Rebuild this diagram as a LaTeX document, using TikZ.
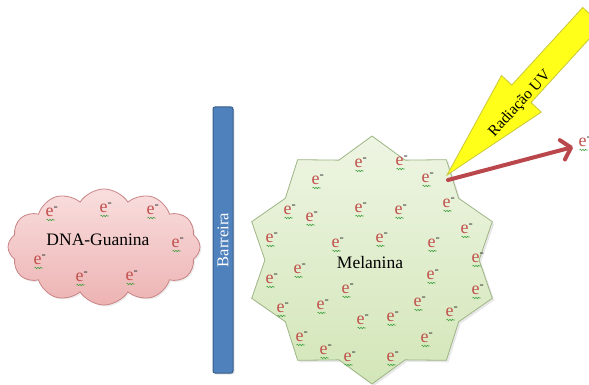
\documentclass[tikz,border=0pt]{standalone}
\usepackage{fontspec}
\setmainfont{Liberation Serif}
\usetikzlibrary{shapes.symbols,decorations.pathmorphing,shadows,arrows.meta}
\definecolor{elred}{HTML}{C0504D}
\definecolor{squiggreen}{HTML}{3FA040}
\definecolor{barfill}{HTML}{4F81BD}
\definecolor{barline}{HTML}{385D8A}
\definecolor{startop}{HTML}{EEF5E3}
\definecolor{starbot}{HTML}{D3E6B8}
\definecolor{starline}{HTML}{9DB585}
\definecolor{cloudtop}{HTML}{F9DEDE}
\definecolor{cloudbot}{HTML}{EDB3B3}
\definecolor{cloudline}{HTML}{C98585}
\definecolor{uvfill}{HTML}{FFFF1A}
\definecolor{uvline}{HTML}{C9C83A}
\definecolor{arrowred}{HTML}{B9474B}
\begin{document}
\begin{tikzpicture}[x=1pt,y=-1pt,
  elec/.style={inner sep=0pt, text=elred, font=\fontsize{18}{20}\selectfont},
  squig/.style={draw=squiggreen, line width=0.6pt, decorate,
    decoration={snake, amplitude=0.7pt, segment length=2.6pt}},
  lbl/.style={inner sep=0pt, font=\fontsize{17.5}{20}\selectfont},
  redarrow/.style={draw=arrowred, line width=4pt, line cap=round,
    -{Straight Barb[length=9pt,width=20pt,round]}},
]
\useasboundingbox (0,0) rectangle (589,385);

% cloud DNA-Guanina
\node[cloud, cloud puffs=12, cloud puff arc=115, aspect=1.7,
  minimum width=192pt, minimum height=116pt, inner sep=0pt,
  draw=cloudline, line width=0.8pt, top color=cloudtop, bottom color=cloudbot,
  drop shadow={opacity=0.15, shadow xshift=1.5pt, shadow yshift=-1.5pt}]
  (cloud) at (104,247) {};
\node[lbl] (dna) at (98,240) {DNA-Guanina};

% barrier
\node[draw=barline, fill=barfill, line width=1pt, rounded corners=2pt,
  minimum width=20pt, minimum height=266pt, inner sep=0pt,
  drop shadow={opacity=0.2, shadow xshift=1.5pt, shadow yshift=-1.5pt}]
  (bar) at (223,240) {};
\node[lbl, text=white, rotate=90, font=\fontsize{16.5}{18}\selectfont] (barlbl) at (223,240) {Barreira};

% star Melanina
\draw[draw=starline, line width=0.8pt, top color=startop, bottom color=starbot,
  drop shadow={opacity=0.18, shadow xshift=2pt, shadow yshift=-2pt},
  shift={(372,260)}, xscale=1.02]
  (90:124) \foreach \a in {0,36,...,324} { -- (90+\a:124) -- (108+\a:105) } -- cycle;
\node[lbl] (mel) at (370,263) {Melanina};

% electrons
\foreach \n/\x/\y in {c1/52/212, c2/106/208, c3/153/210, c4/178/243, c5/40/260, c6/82/277, c7/132/276,
  m1/361/163, m2/402/161, m3/318/180, m4/428/178, m5/290/210, m6/312/217, m7/361/208,
  m8/401/210, m9/449/203, m10/272/238, m11/338/243, m12/382/238, m13/434/243, m14/467/229,
  m15/300/269, m16/272/279, m17/433/275, m18/478/258, m19/348/289, m20/478/290, m21/323/305,
  m22/283/308, m23/420/302, m24/363/320, m25/393/317, m26/452/312, m27/302/337, m28/427/338,
  m29/326/350, m30/350/357, m31/393/357, ef/585/142}
{
  \node[elec] (\n) at (\x,\y) {e\textsuperscript{\color{black!80}-}};
  \draw[squig] ([xshift=-5.5pt,yshift=-8pt]\n.center) -- ([xshift=2.5pt,yshift=-8pt]\n.center);
}

% UV arrow
\coordinate (uvtip) at (447,175);
\draw[draw=uvline, line width=0.8pt, fill=uvfill]
  (uvtip) -- (501.5,75.5) -- (511.8,85.0) -- (582.7,7.5) -- (601.9,25.1)
  -- (531.0,102.6) -- (541.3,112.1) -- cycle;
\node[lbl, rotate=47.5, font=\fontsize{15.5}{17}\selectfont] (uv) at (520,104) {Radiação UV};

% red arrow
\coordinate (rs) at (448,180);
\coordinate (rt) at (573,147);
\draw[redarrow] (rs) -- (rt);
\end{tikzpicture}
\end{document}
